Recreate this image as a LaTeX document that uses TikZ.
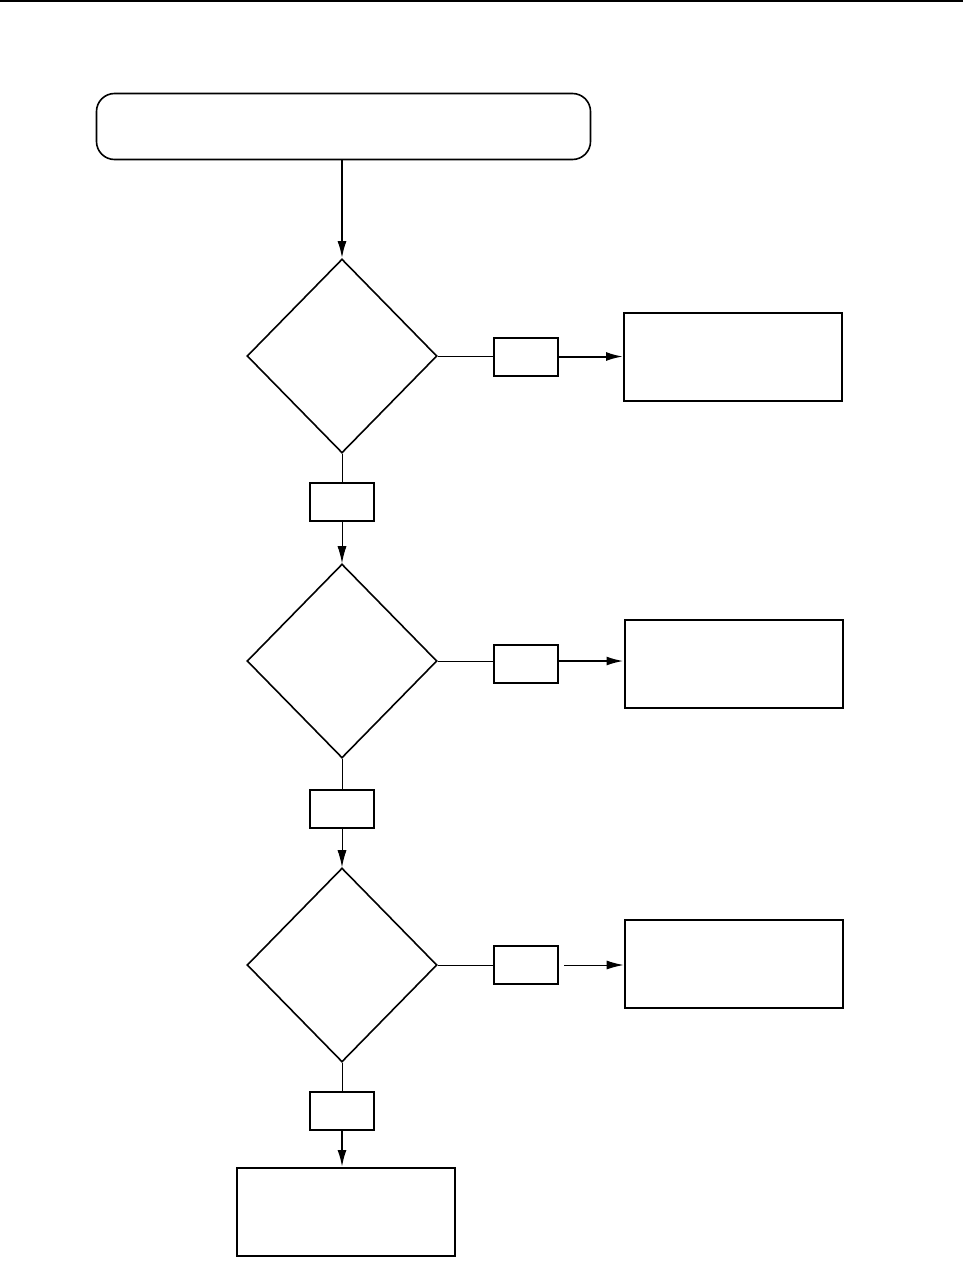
\documentclass[tikz,border=0pt]{standalone}
\usetikzlibrary{shapes.geometric, arrows.meta}

\begin{document}
\begin{tikzpicture}
    	[x=0.5pt, y=-0.5pt,
    	 start/.style={draw, rounded corners=9pt, line width=0.8pt, minimum width=247pt, minimum height=33pt, inner sep=0pt},
    	 dia/.style={draw, diamond, line width=0.8pt, minimum width=95pt, minimum height=97pt, inner sep=0pt},
    	 tag/.style={draw, line width=1pt, minimum width=32pt, minimum height=19pt, inner sep=0pt},
    	 box/.style={draw, line width=1pt, minimum width=109pt, minimum height=44pt, inner sep=0pt},
    	 thick arrow/.style={line width=1pt, -{Latex[length=8.5pt, width=4.5pt]}},
    	 thin arrow/.style={line width=0.5pt, -{Latex[length=8.5pt, width=4.5pt]}},
    	 thin line/.style={line width=0.5pt}]
    	\useasboundingbox (0,0) rectangle (963,1274);
    	\draw[line width=1pt] (0,1) -- (963,1);

    	\node (start) at (343.5,126.5) [start] {};

    	\node (d1) at (342,356) [dia] {};
    	\node (yes1) at (526,356.5) [tag] {};
    	\node (r1) at (733,357) [box] {};
    	\node (n1) at (342,502) [tag] {};

    	\node (d2) at (342,661) [dia] {};
    	\node (yes2) at (526,664) [tag] {};
    	\node (r2) at (733.5,663.5) [box] {};
    	\node (n2) at (342,809) [tag] {};

    	\node (d3) at (342,965) [dia] {};
    	\node (yes3) at (526,965) [tag] {};
    	\node (r3) at (733.5,964) [box] {};
    	\node (n3) at (342,1111) [tag] {};

    	\node (end) at (346,1212) [box] {};

    	\draw[thick arrow] (start.south -| d1.north) -- (d1.north);
    	\draw[thin line] (d1.east) -- (yes1.west |- d1.east);
    	\draw[thick arrow] (yes1.east) -- (r1.west |- yes1.east);
    	\draw[thin line] (d1.south) -- (n1.north);
    	\draw[thin arrow] (n1.south) -- (d2.north);

    	\draw[thin line] (d2.east) -- (yes2.west |- d2.east);
    	\draw[thick arrow] (yes2.east |- d2.east) -- (r2.west |- d2.east);
    	\draw[thin line] (d2.south) -- (n2.north);
    	\draw[thin arrow] (n2.south) -- (d3.north);

    	\draw[thin line] (d3.east) -- (yes3.west |- d3.east);
    	\draw[thin arrow, shorten <=2.5pt] (yes3.east |- d3.east) -- (r3.west |- d3.east);
    	\draw[thin line] (d3.south) -- (n3.north);
    	\draw[thick arrow] (n3.south) -- (end.north -| n3.south);
\end{tikzpicture}
\end{document}
